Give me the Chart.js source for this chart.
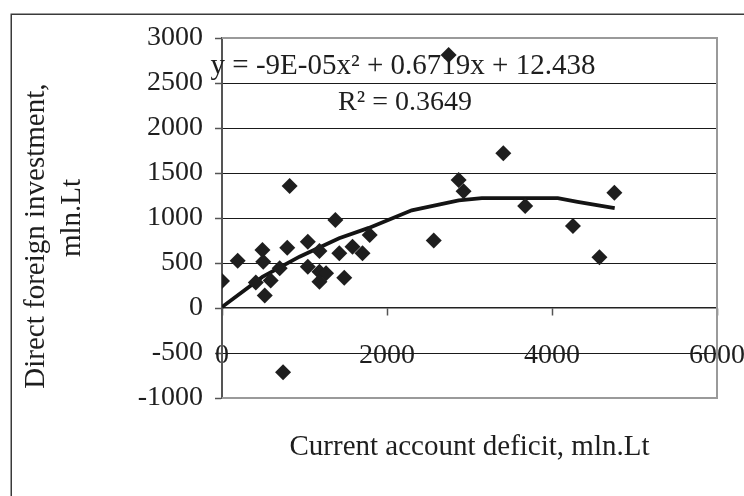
<!DOCTYPE html>
<html>
<head>
<meta charset="utf-8">
<script src="https://cdn.jsdelivr.net/npm/chart.js@4/dist/chart.umd.min.js"></script>
<style>
html,body{margin:0;padding:0;background:#fff;}
#wrap{width:744px;height:496px;}
</style>
</head>
<body>
<div id="wrap"><canvas id="c" width="744" height="496"></canvas></div>
<script>
// Current account deficit (x, mln.Lt)
const deficit = [0, 190, 410, 490, 500, 518, 590, 699, 740, 791, 820, 1040, 1040, 1181, 1181, 1261, 1181, 1374, 1422, 1482, 1582, 1703, 1790, 2567, 2747, 3410, 2868, 2928, 3675, 4254, 4575, 4756];
// Direct foreign investment (y, mln.Lt)
const fdi = [300, 525, 283, 644, 514, 140, 305, 441, -715, 670, 1355, 737, 459, 633, 404, 385, 293, 978, 607, 337, 681, 607, 811, 750, 2810, 1719, 1422, 1297, 1133, 911, 565, 1281];
// polynomial trend line as drawn in the picture
const trendX = [0, 490, 940, 1420, 1780, 2300, 2870, 3150, 4070, 4310, 4760];
const trendY = [10, 345, 570, 775, 890, 1085, 1195, 1220, 1220, 1180, 1110];
const xTicks = [0, 2000, 4000, 6000];
const yTicks = [-1000, -500, 0, 500, 1000, 1500, 2000, 2500, 3000];
const xTitle = 'Current account deficit, mln.Lt';
const yTitle = ['Direct foreign investment,     ', 'mln.Lt'];
const eqText = 'y = -9E-05x\u00B2 + 0.6719x + 12.438';
const r2Text = 'R\u00B2 = 0.3649';

const FONT = 'Liberation Serif';
const ink = '#1e1e1e';

const framePlugin = {
  id: 'frame',
  beforeDraw(chart) {
    const ctx = chart.ctx;
    ctx.save();
    ctx.strokeStyle = '#3a3a3a';
    ctx.lineWidth = 1.5;
    ctx.strokeRect(11.25, 14.25, 800, 600);
    ctx.restore();
  },
  beforeDatasetsDraw(chart) {
    const ctx = chart.ctx;
    const a = chart.chartArea;
    ctx.save();
    ctx.strokeStyle = '#9a9a9a';
    ctx.lineWidth = 2;
    ctx.beginPath();
    ctx.moveTo(a.left, a.top);
    ctx.lineTo(a.right, a.top);
    ctx.lineTo(a.right, a.bottom);
    ctx.lineTo(a.left, a.bottom);
    ctx.stroke();
    ctx.fillStyle = ink;
    ctx.font = '29px "' + FONT + '"';
    ctx.textAlign = 'center';
    ctx.textBaseline = 'middle';
    ctx.fillText(eqText, 403, 66);
    ctx.font = '28px "' + FONT + '"';
    ctx.fillText(r2Text, 405, 103);
    ctx.restore();
  }
};

new Chart(document.getElementById('c'), {
  type: 'scatter',
  data: {
    datasets: [
      {
        label: 'FDI',
        data: deficit.map((x, i) => ({x: x, y: fdi[i]})),
        pointStyle: 'rectRot',
        pointRadius: 8,
        pointBackgroundColor: ink,
        pointBorderColor: ink,
        pointBorderWidth: 0,
        showLine: false,
        order: 1
      },
      {
        label: 'Trend',
        data: trendX.map((x, i) => ({x: x, y: trendY[i]})),
        showLine: true,
        borderColor: '#141414',
        borderWidth: 3.8,
        pointRadius: 0,
        tension: 0,
        fill: false,
        order: 2
      }
    ]
  },
  options: {
    responsive: false,
    animation: false,
    devicePixelRatio: 1,
    layout: {padding: {left: 0, top: 38, right: 27, bottom: 0}},
    plugins: {legend: {display: false}, tooltip: {enabled: false}},
    scales: {
      x: {
        type: 'linear',
        position: {y: 0},
        min: xTicks[0],
        max: xTicks[xTicks.length - 1],
        afterBuildTicks: s => { s.ticks = xTicks.map(v => ({value: v})); },
        afterFit: s => { s.paddingLeft = 0; s.paddingRight = 0; },
        grid: {drawOnChartArea: false, drawTicks: true, tickLength: 7, tickColor: '#555', tickWidth: 1.5},
        border: {display: true, color: '#222', width: 1.5},
        ticks: {color: ink, padding: 24, maxRotation: 0, font: {family: FONT, size: 28}, callback: v => String(v)}
      },
      x2: {
        type: 'linear',
        position: 'bottom',
        min: 0, max: 6000,
        grid: {display: false},
        border: {display: false},
        ticks: {display: false},
        afterFit: s => { s.height = 98; },
        title: {display: true, text: xTitle, color: ink, font: {family: FONT, size: 29}, padding: {top: 0, bottom: 31}}
      },
      y: {
        type: 'linear',
        position: 'left',
        min: yTicks[0],
        max: yTicks[yTicks.length - 1],
        afterBuildTicks: s => { s.ticks = yTicks.map(v => ({value: v})); },
        afterFit: s => { s.width = 222; },
        grid: {
          color: c => (c.tick && (c.tick.value === yTicks[0] || c.tick.value === yTicks[yTicks.length - 1] || c.tick.value === 0)) ? 'rgba(0,0,0,0)' : '#1a1a1a',
          lineWidth: 1,
          drawTicks: true, tickLength: 7, tickColor: '#555', tickWidth: 1.5
        },
        border: {display: true, color: '#555', width: 2},
        ticks: {color: ink, padding: 12, font: {family: FONT, size: 28}, callback: v => String(v)},
        title: {display: true, text: yTitle, color: ink, font: {family: FONT, size: 29, lineHeight: 1.25}, padding: {top: 18, bottom: 0}}
      }
    }
  },
  plugins: [framePlugin]
});
</script>
</body>
</html>
